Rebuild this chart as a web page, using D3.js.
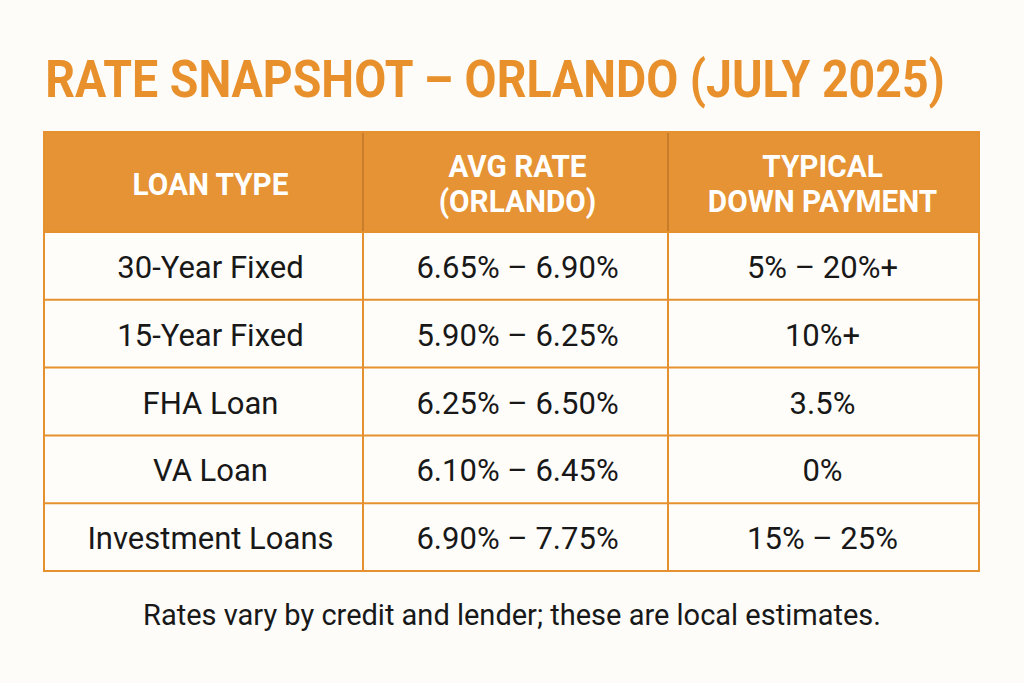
<!DOCTYPE html>
<html><head><meta charset="utf-8">
<script src="https://cdn.jsdelivr.net/npm/d3@7"></script>
<style>
html,body{margin:0;padding:0;background:#FDFCF8;}
svg{display:block;}
</style></head>
<body>
<svg id="chart" width="1024" height="683"></svg>
<script>
const title = "RATE SNAPSHOT – ORLANDO (JULY 2025)";
const headers = [["LOAN TYPE"], ["AVG RATE", "(ORLANDO)"], ["TYPICAL", "DOWN PAYMENT"]];
const loanTypes = ["30-Year Fixed", "15-Year Fixed", "FHA Loan", "VA Loan", "Investment Loans"];
const avgRates = ["6.65% – 6.90%", "5.90% – 6.25%", "6.25% – 6.50%", "6.10% – 6.45%", "6.90% – 7.75%"];
const downPayments = ["5% – 20%+", "10%+", "3.5%", "0%", "15% – 25%"];
const footnote = "Rates vary by credit and lender; these are local estimates.";

const svg = d3.select("#chart");
const orange = "#E6912F", headFill = "#E59334", dark = "#181818";
const font = "Roboto, 'Open Sans', sans-serif";

const colEdges = [44, 363, 668, 979];
const tableTop = 132, headBottom = 232, tableBottom = 571;
const xC = i => (colEdges[i] + colEdges[i+1]) / 2;
const colOffset = [7, 2, -1];

const y = d3.scaleBand().domain(d3.range(loanTypes.length)).range([headBottom, tableBottom]).padding(0);

// Title (condensed to the reference width)
const titleEl = svg.append("text").attr("text-anchor", "middle")
  .attr("font-family", font).attr("font-weight", 700).attr("font-size", 52)
  .attr("fill", "#E8902C").text(title);
const tw = titleEl.node().getComputedTextLength();
titleEl.attr("transform", `translate(495,97) scale(${900 / tw},1)`);

// Header background
svg.append("rect").attr("x", colEdges[0]).attr("y", tableTop)
  .attr("width", colEdges[3] - colEdges[0]).attr("height", headBottom - tableTop)
  .attr("fill", headFill);

// Body background
svg.append("rect").attr("x", colEdges[0]).attr("y", headBottom)
  .attr("width", colEdges[3] - colEdges[0]).attr("height", tableBottom - headBottom)
  .attr("fill", "#FEFDF9");

// Header dividers (darker)
svg.selectAll(".hdiv").data([1, 2]).join("line")
  .attr("x1", d => colEdges[d]).attr("x2", d => colEdges[d])
  .attr("y1", tableTop).attr("y2", headBottom)
  .attr("stroke", "#BF7526").attr("stroke-width", 1.5);

// Body row lines
svg.selectAll(".rline").data(d3.range(1, loanTypes.length)).join("line")
  .attr("x1", colEdges[0]).attr("x2", colEdges[3])
  .attr("y1", d => y(d)).attr("y2", d => y(d))
  .attr("stroke", orange).attr("stroke-width", 2);

// Body column lines
svg.selectAll(".cline").data([1, 2]).join("line")
  .attr("x1", d => colEdges[d]).attr("x2", d => colEdges[d])
  .attr("y1", headBottom).attr("y2", tableBottom)
  .attr("stroke", orange).attr("stroke-width", 2);

// Outer border
svg.append("rect").attr("x", colEdges[0]).attr("y", tableTop)
  .attr("width", colEdges[3] - colEdges[0]).attr("height", tableBottom - tableTop)
  .attr("fill", "none").attr("stroke", orange).attr("stroke-width", 2);
svg.append("line").attr("x1", colEdges[0]).attr("x2", colEdges[3])
  .attr("y1", headBottom).attr("y2", headBottom).attr("stroke", orange).attr("stroke-width", 2);

// Header text (slightly condensed bold)
headers.forEach((lines, i) => {
  const lh = 35;
  const mid = (tableTop + headBottom) / 2;
  const base = mid + 12.5 - (lines.length - 1) * lh / 2;
  lines.forEach((ln, j) => {
    svg.append("text")
      .attr("transform", `translate(${xC(i) + colOffset[i]},${base + j * lh}) scale(0.93,1)`)
      .attr("text-anchor", "middle")
      .attr("font-family", font).attr("font-weight", 700).attr("font-size", 32)
      .attr("fill", "#FFFFFF").text(ln);
  });
});

// Body text
const cols = [loanTypes, avgRates, downPayments];
cols.forEach((arr, i) => {
  svg.selectAll(".c" + i).data(arr).join("text")
    .attr("transform", (d, k) => `translate(${xC(i) + colOffset[i]},${y(k) + y.bandwidth() / 2 + 12}) scale(0.97,1)`)
    .attr("text-anchor", "middle")
    .attr("font-family", font).attr("font-size", 32).attr("fill", dark)
    .text(d => d);
});

// Footnote
svg.append("text").attr("x", 512).attr("y", 625).attr("text-anchor", "middle")
  .attr("font-family", font).attr("font-size", 29).attr("fill", dark)
  .text(footnote);
</script>
</body></html>
